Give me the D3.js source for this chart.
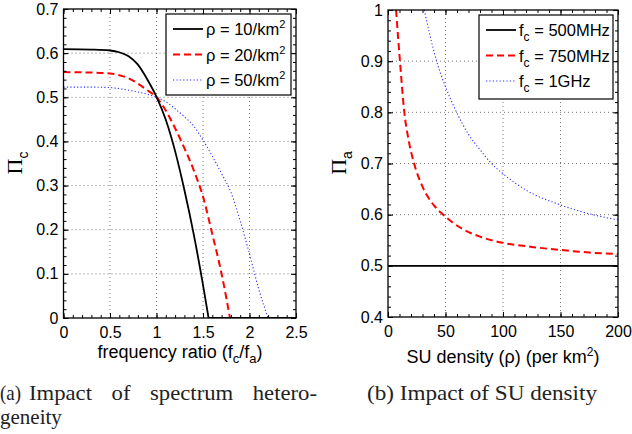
<!DOCTYPE html>
<html>
<head>
<meta charset="utf-8">
<script src="https://cdn.jsdelivr.net/npm/d3@7"></script>
<style>
  body { margin: 0; background: #fff; }
</style>
</head>
<body>
<svg id="chart"></svg>
<script>
// ---- data ----
// (a) Pi_c vs frequency ratio fc/fa
const ratioRho10 = [0, 0.3, 0.5, 0.6, 0.7, 0.8, 0.9, 1.0, 1.1, 1.2, 1.3, 1.4, 1.5, 1.56, 2.5];
const piCRho10 = [0.609, 0.608, 0.606, 0.602, 0.593, 0.574, 0.541, 0.501, 0.449, 0.378, 0.29, 0.19, 0.075, 0, 0];
const ratioRho20 = [0, 0.3, 0.5, 0.6, 0.7, 0.8, 0.9, 1.0, 1.1, 1.2, 1.3, 1.4, 1.5, 1.6, 1.7, 1.79, 2.5];
const piCRho20 = [0.557, 0.556, 0.554, 0.55, 0.543, 0.531, 0.516, 0.5, 0.47, 0.43, 0.385, 0.335, 0.275, 0.19, 0.1, 0, 0];
const ratioRho50 = [0, 0.3, 0.5, 0.7, 0.8, 0.9, 1.0, 1.1, 1.2, 1.3, 1.4, 1.5, 1.6, 1.7, 1.8, 1.9, 2.0, 2.1, 2.2, 2.5];
const piCRho50 = [0.523, 0.523, 0.522, 0.516, 0.512, 0.507, 0.5, 0.49, 0.474, 0.456, 0.435, 0.403, 0.367, 0.327, 0.285, 0.22, 0.145, 0.065, 0, 0];

// (b) Pi_a vs SU density
const rho500 = [0, 200];
const piA500 = [0.5, 0.5];
const rho750 = [7, 10.4, 14.2, 18, 22.7, 30, 40, 48, 64, 80, 100, 125, 150, 175, 200];
const piA750 = [1.0, 0.9, 0.8, 0.745, 0.7, 0.655, 0.618, 0.6, 0.573, 0.557, 0.545, 0.537, 0.531, 0.526, 0.523];
const rho1G = [31.6, 36, 42.3, 50, 59.7, 70, 80, 90, 100, 120, 150, 178, 200];
const piA1G = [1.0, 0.955, 0.9, 0.85, 0.8, 0.757, 0.727, 0.7, 0.68, 0.648, 0.619, 0.6, 0.59];

// ticks
const ratioTicks = [0, 0.5, 1, 1.5, 2, 2.5];
const piCTicks = [0, 0.1, 0.2, 0.3, 0.4, 0.5, 0.6, 0.7];
const rhoTicks = [0, 50, 100, 150, 200];
const piATicks = [0.4, 0.5, 0.6, 0.7, 0.8, 0.9, 1];

const legendA = ["ρ = 10/km", "ρ = 20/km", "ρ = 50/km"];
const legendB = ["500MHz", "750MHz", "1GHz"];

const width = 632, height = 434;
const sans = "Liberation Sans, Arial, Helvetica, sans-serif";
const serif = "Liberation Serif, Times New Roman, serif";

const styles = [
  { stroke: "#000", width: 1.8, dash: null },
  { stroke: "#ff0000", width: 2, dash: "7,4" },
  { stroke: "#3030ff", width: 1.1, dash: "1.2,2.2" }
];

const svg = d3.select("#chart").attr("width", width).attr("height", height)
  .style("font-family", sans);

function panel(id, box, xDomain, yDomain, xTicks, yTicks, xMinorStep, yMinorStep) {
  const x = d3.scaleLinear().domain(xDomain).range([box.left, box.right]);
  const y = d3.scaleLinear().domain(yDomain).range([box.bottom, box.top]);
  const g = svg.append("g").attr("id", id);

  svg.append("clipPath").attr("id", id + "-clip")
    .append("rect")
    .attr("x", box.left).attr("y", box.top)
    .attr("width", box.right - box.left).attr("height", box.bottom - box.top);

  // dotted grid
  const grid = g.append("g").attr("stroke", "#777").attr("stroke-width", 1)
    .attr("stroke-dasharray", "1,3");
  grid.selectAll("line.gx").data(xTicks.slice(1, -1)).join("line")
    .attr("x1", d => x(d)).attr("x2", d => x(d))
    .attr("y1", box.top).attr("y2", box.bottom);
  grid.selectAll("line.gy").data(yTicks.slice(1, -1)).join("line")
    .attr("y1", d => y(d)).attr("y2", d => y(d))
    .attr("x1", box.left).attr("x2", box.right);

  const xMinor = d3.range(xDomain[0], xDomain[1] + 1e-9, xMinorStep);
  const yMinor = d3.range(yDomain[0], yDomain[1] + 1e-9, yMinorStep);
  const fmt = d => String(+d.toFixed(2));

  const axes = g.append("g").attr("class", "axes");
  const put = (axis, tx, ty) => {
    const a = axes.append("g").attr("transform", `translate(${tx},${ty})`).call(axis);
    a.select(".domain").remove();
    a.attr("font-family", sans).attr("font-size", 16);
    a.selectAll("line").attr("stroke", "#000");
    a.selectAll("text").attr("fill", "#000");
    return a;
  };
  put(d3.axisBottom(x).tickValues(xTicks).tickSize(-5).tickPadding(9).tickFormat(fmt), 0, box.bottom);
  put(d3.axisBottom(x).tickValues(xMinor).tickSize(-3).tickFormat(""), 0, box.bottom);
  put(d3.axisTop(x).tickValues(xTicks).tickSize(-5).tickFormat(""), 0, box.top);
  put(d3.axisTop(x).tickValues(xMinor).tickSize(-3).tickFormat(""), 0, box.top);
  put(d3.axisLeft(y).tickValues(yTicks).tickSize(-5).tickPadding(5).tickFormat(fmt), box.left, 0);
  put(d3.axisLeft(y).tickValues(yMinor).tickSize(-3).tickFormat(""), box.left, 0);
  put(d3.axisRight(y).tickValues(yTicks).tickSize(-5).tickFormat(""), box.right, 0);
  put(d3.axisRight(y).tickValues(yMinor).tickSize(-3).tickFormat(""), box.right, 0);

  return { g, x, y, box, clip: `url(#${id}-clip)` };
}

// draw a series; a trailing flat run at y=0 is added as a straight segment
function series(p, xs, ys, st) {
  const pts = xs.map((v, i) => [v, ys[i]]);
  let k = pts.findIndex(d => d[1] === 0);
  const smooth = k >= 0 ? pts.slice(0, k + 1) : pts;
  const rest = k >= 0 ? pts.slice(k + 1) : [];
  const line = d3.line().x(d => p.x(d[0])).y(d => p.y(d[1])).curve(d3.curveMonotoneX);
  let d = line(smooth);
  rest.forEach(q => { d += "L" + p.x(q[0]) + "," + p.y(q[1]); });
  p.g.insert("path", ".axes")
    .attr("d", d)
    .attr("clip-path", p.clip)
    .attr("fill", "none")
    .attr("stroke", st.stroke)
    .attr("stroke-width", st.width)
    .attr("stroke-dasharray", st.dash);
}

function frameBox(p) {
  p.g.append("rect")
    .attr("x", p.box.left).attr("y", p.box.top)
    .attr("width", p.box.right - p.box.left).attr("height", p.box.bottom - p.box.top)
    .attr("fill", "none").attr("stroke", "#000").attr("stroke-width", 1.3);
}

function legend(p, lx, ly, lw, lh, labels, kind) {
  const lg = p.g.append("g");
  lg.append("rect").attr("x", lx).attr("y", ly).attr("width", lw).attr("height", lh)
    .attr("fill", "#fff").attr("stroke", "#000").attr("stroke-width", 1.2);
  labels.forEach((lab, i) => {
    const cy = ly + 15 + i * 25.5;
    const st = styles[i];
    lg.append("line").attr("x1", lx + 7).attr("x2", lx + 37).attr("y1", cy).attr("y2", cy)
      .attr("stroke", st.stroke).attr("stroke-width", st.width).attr("stroke-dasharray", st.dash);
    const t = lg.append("text").attr("x", lx + 40).attr("y", cy + 6)
      .attr("font-size", 16.5).attr("fill", "#000");
    if (kind === "rho") {
      t.append("tspan").text(lab);
      t.append("tspan").attr("dy", -7).attr("font-size", 11).text("2");
    } else {
      t.append("tspan").text("f");
      t.append("tspan").attr("dy", 5).attr("font-size", 12).text("c");
      t.append("tspan").attr("dy", -5).text(" = " + lab);
    }
  });
}

// ---- panel (a) ----
const pa = panel("pa", { left: 63.5, right: 296, top: 9, bottom: 318 },
  [0, 2.5], [0, 0.7], ratioTicks, piCTicks, 0.1, 0.02);
series(pa, ratioRho50, piCRho50, styles[2]);
series(pa, ratioRho20, piCRho20, styles[1]);
series(pa, ratioRho10, piCRho10, styles[0]);
frameBox(pa);
legend(pa, 166, 14, 125, 81, legendA, "rho");

// ---- panel (b) ----
const pb = panel("pb", { left: 388, right: 618, top: 10, bottom: 317 },
  [0, 200], [0.4, 1], rhoTicks, piATicks, 10, 0.02);
series(pb, rho1G, piA1G, styles[2]);
series(pb, rho750, piA750, styles[1]);
series(pb, rho500, piA500, styles[0]);
frameBox(pb);
legend(pb, 479, 15, 134, 84, legendB, "fc");

// ---- axis labels ----
const xl = svg.append("text").attr("x", 180).attr("y", 358).attr("text-anchor", "middle")
  .attr("font-size", 18).attr("fill", "#000");
xl.append("tspan").text("frequency ratio (f");
xl.append("tspan").attr("dy", 5).attr("font-size", 13).text("c");
xl.append("tspan").attr("dy", -5).text("/f");
xl.append("tspan").attr("dy", 5).attr("font-size", 13).text("a");
xl.append("tspan").attr("dy", -5).text(")");

const xr = svg.append("text").attr("x", 503).attr("y", 363).attr("text-anchor", "middle")
  .attr("font-size", 18).attr("fill", "#000");
xr.append("tspan").text("SU density (ρ) (per km");
xr.append("tspan").attr("dy", -7).attr("font-size", 12).text("2");
xr.append("tspan").attr("dy", 7).text(")");

function ylabel(cx, cy, sub) {
  const t = svg.append("text").attr("transform", `translate(${cx},${cy}) rotate(-90)`)
    .attr("text-anchor", "middle").attr("fill", "#000");
  t.append("tspan").attr("font-family", serif).attr("font-size", 22).text("Π");
  t.append("tspan").attr("dy", 6).attr("font-size", 14).attr("font-family", sans).text(sub);
}
ylabel(22, 163, "c");
ylabel(346, 163, "a");

// ---- captions ----
const cap = svg.append("g").attr("font-family", serif).attr("font-size", 21).attr("fill", "#222");
cap.append("text").attr("x", 0).attr("y", 400)
  .attr("textLength", 21).attr("lengthAdjust", "spacingAndGlyphs").text("(a)");
// justified first line: words widened a bit, equal gaps, ending at the column edge
const capWords = ["Impact", "of", "spectrum", "hetero-"];
const capStart = 29, capEnd = 317, widen = 1.08;
const nodes = capWords.map(w => cap.append("text").attr("y", 400).text(w));
const widths = nodes.map(n => n.node().getComputedTextLength() * widen);
const gap = (capEnd - capStart - d3.sum(widths)) / (capWords.length - 1);
let cx = capStart;
nodes.forEach((n, i) => {
  n.attr("x", cx).attr("textLength", widths[i]).attr("lengthAdjust", "spacingAndGlyphs");
  cx += widths[i] + gap;
});
cap.append("text").attr("x", 0).attr("y", 424).text("geneity");
cap.append("text").attr("x", 367).attr("y", 400)
  .attr("textLength", 230).attr("lengthAdjust", "spacingAndGlyphs").text("(b) Impact of SU density");
</script>
</body>
</html>
